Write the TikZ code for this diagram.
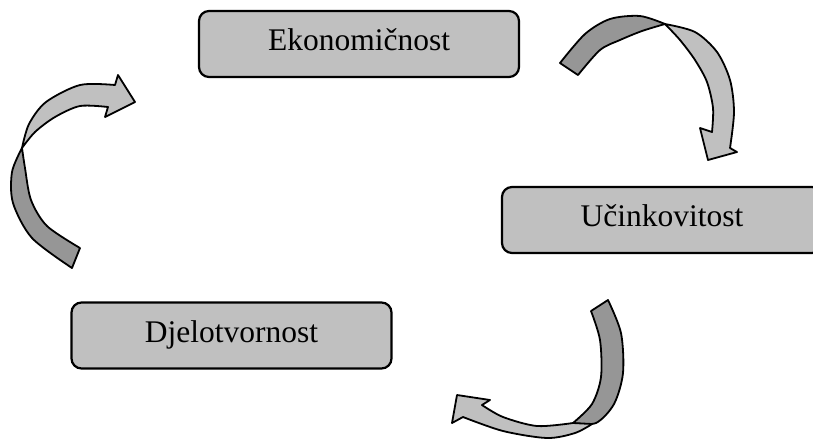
\documentclass[tikz,border=0pt]{standalone}
\usepackage{fontspec}
\setmainfont{Liberation Serif}
\usepackage{tikz}
\usetikzlibrary{positioning, calc}
\definecolor{boxgrey}  {RGB}{192, 192, 192}
\definecolor{backgrey} {RGB}{150, 150, 150}
\tikzset{
	stage/.style={draw, line width=1.1pt, fill=boxgrey, rounded corners=5pt,
		minimum width=160pt, minimum height=33pt, text height=0.9em, text depth=0.24em,
		font=\fontsize{15.75pt}{18pt}\selectfont},
	front/.style={draw, line width=0.9pt, fill=boxgrey, line join=round},
	back/.style={draw, line width=0.9pt, fill=backgrey, line join=round}
}
\begin{document}
\begin{tikzpicture}[x=0.5pt, y=-0.5pt]
	\useasboundingbox (0,0) rectangle (813,441);
	\clip (0,0) rectangle (813,441);
	\node[stage] (ekon) at (359,44) {Ekonomičnost};
	\node[stage] (ucin) at (662,220) {Učinkovitost};
	\node[stage] (djel) at (231.5,335.5) {Djelotvornost};
	% lijeva strelica
	\filldraw[back] plot[smooth] coordinates {(22,148) (12,172) (13,203) (32,238) (72,268)} -- (80,248)
		-- plot[smooth] coordinates {(80,248) (47,226) (31,200) (25,168) (22,148)} -- cycle;
	\filldraw[front] plot[smooth] coordinates {(22,148) (29,124) (46,102) (80,85) (115,85)} -- (118,75) -- (135,102) -- (105,117)
		-- plot[smooth] coordinates {(108,107) (80,106) (55,117) (35,132) (22,148)} -- cycle;
	% gornja strelica
	\filldraw[back] plot[smooth] coordinates {(665,24) (640,16) (610,19) (585,34) (560,63)} -- (578,75)
		-- plot[smooth] coordinates {(578,75) (600,50) (620,40) (642,31) (665,24)} -- cycle;
	\filldraw[front] plot[smooth] coordinates {(665,24) (695,32) (717,52) (730,80) (734,112) (730,148)} -- (737,152) -- (708,160) -- (700,128)
		-- plot[smooth] coordinates {(712,132) (713,108) (707,82) (695,60) (680,40) (665,24)} -- cycle;
	% donja strelica
	\filldraw[back] plot[smooth] coordinates {(573,423) (592,404) (601,377) (600,340) (591,311)} -- (608,300)
		-- plot[smooth] coordinates {(608,300) (621,333) (623,373) (614,404) (596,423) (573,423)} -- cycle;
	\filldraw[front] plot[smooth] coordinates {(573,423) (537,426) (503,417) (482,405)} -- (490,400) -- (457,395) -- (452,423)
		-- plot[smooth] coordinates {(463,417) (503,431) (547,438) (575,433) (592,424)} -- cycle;
\end{tikzpicture}
\end{document}
